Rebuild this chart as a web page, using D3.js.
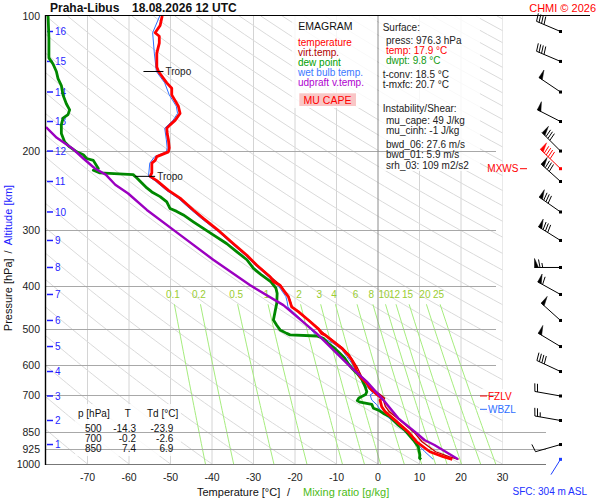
<!DOCTYPE html>
<html>
<head>
<meta charset="utf-8">
<script src="https://cdn.jsdelivr.net/npm/d3@7"></script>
<style>
  body { margin: 0; background: #fff; }
  svg { display: block; font-family: "Liberation Sans", Arial, sans-serif; }
</style>
</head>
<body>
<svg id="chart" width="600" height="500"></svg>
<script>
// ---- grid values ----
const isobars = [100, 200, 300, 400, 500, 600, 700, 850, 925, 1000];
const isotherms = [-70, -60, -50, -40, -30, -20, -10, 0, 10, 20, 30];
const mixRatios = [0.1, 0.2, 0.5, 1, 2, 3, 4, 6, 8, 10, 12, 15, 20, 25];

// altitude marks (km) and the pressure where they sit
const altKm = [1, 2, 3, 4, 5, 6, 7, 8, 9, 10, 11, 12, 13, 14, 15, 16];
const altP = [904.8, 799.6, 705.0, 621.7, 546.8, 478.2, 418.4, 364.2, 317.0, 273.8, 234.1, 200.2, 172.0, 147.8, 126.3, 108.3];

// winds at every km
const windDir = [254, 280, 280, 295, 301, 312, 299, 270, 302, 305, 312, 315, 297, 304, 293, 293];
const windSpd = [10, 25, 20, 40, 50, 50, 60, 65, 80, 80, 80, 80, 50, 50, 40, 40];
const mxwsP = 219.2, mxwsDir = 314, mxwsSpd = 90;
const sfcP = 976.3, sfcDir = 212;

// levels marked on the right
const fzlvP = 705, wbzlP = 755;
const tropoP = [133, 228];

// ---- sounding [p hPa, T °C] ----
const temperature = [
  [100,-52.0],[105,-52.5],[109,-53.7],[111,-52.7],[115,-52.7],[121,-53.3],[130,-53.3],[133,-52.9],
  [141,-50.9],[145,-49.7],[150,-49.7],[159,-48.1],[165,-47.7],[171,-48.9],[175,-50.1],[178,-50.9],
  [183,-50.8],[189,-50.5],[197,-50.3],[201,-50.5],[206,-53.3],[210,-53.7],[213,-54.5],[224,-54.5],
  [228,-54.9],[233,-53.3],[245,-50.5],[255,-47.7],[271,-44.5],[283,-42.1],[303,-38.1],[322,-34.9],
  [342,-31.6],[360,-29.2],[382,-26.0],[392,-25.2],[399,-23.6],[409,-22.8],[423,-21.6],[434,-21.2],
  [446,-20.8],[457,-19.2],[477,-16.8],[500,-14.3],[511,-13.6],[515,-12.8],[529,-11.2],[552,-8.7],
  [571,-7.2],[586,-6.3],[606,-5.5],[622,-5.1],[639,-4.3],[660,-2.7],[678,-1.9],[700,-0.2],
  [713,0.9],[720,0.5],[745,0.9],[764,1.7],[798,4.1],[850,7.4],[892,9.3],[939,12.5],[963,15.7],[976.3,17.9]
];
const virtTemp = [
  [303,-38.1],[360,-29.1],[399,-23.5],[423,-21.5],[446,-20.7],[477,-16.7],[500,-14.2],[515,-12.6],
  [529,-11.0],[552,-8.4],[571,-6.9],[606,-5.1],[639,-3.9],[660,-2.3],[678,-1.4],[700,0.5],
  [713,1.6],[720,1.3],[745,1.8],[764,2.7],[798,5.2],[850,8.7],[892,10.6],[939,13.9],[963,17.1],[976.3,19.4]
];
const dewpoint = [
  [100,-79.5],[112,-79.3],[124,-79.3],[128,-78.3],[133,-77.5],[138,-77.1],[143,-76.3],[150,-75.9],
  [157,-75.1],[162,-74.3],[166,-74.7],[169,-75.9],[175,-76.3],[183,-76.3],[191,-75.5],[196,-74.3],
  [201,-72.6],[204,-71.0],[208,-70.2],[210,-68.6],[219,-67.4],[221,-68.6],[224,-67.0],[226,-59.0],
  [230,-58.1],[236,-56.9],[242,-55.7],[247,-54.5],[253,-52.5],[260,-50.9],[269,-50.1],[273,-48.5],
  [278,-46.9],[288,-44.5],[298,-42.1],[308,-39.7],[322,-36.5],[336,-34.0],[350,-31.6],[366,-30.0],
  [379,-28.0],[392,-25.8],[405,-24.6],[416,-24.3],[438,-24.4],[457,-24.8],[477,-25.2],[490,-24.4],
  [502,-23.6],[511,-22.0],[515,-21.2],[518,-14.8],[524,-13.2],[538,-12.0],[552,-10.4],[566,-9.2],
  [581,-8.0],[596,-7.2],[611,-6.3],[627,-5.1],[645,-4.0],[672,-3.1],[690,-2.7],[700,-3.0],
  [712,-4.6],[722,-5.0],[728,-4.3],[736,-1.5],[751,-1.1],[758,0.1],[771,1.3],[784,2.9],
  [819,4.9],[840,6.5],[850,6.9],[884,8.5],[915,9.7],[955,10.1],[970,10.0],[976.3,10.4]
];
const wetBulb = [
  [100,-52.6],[109,-54.3],[121,-53.9],[133,-53.4],[141,-51.4],[150,-50.3],[159,-48.6],[165,-48.3],
  [171,-49.4],[178,-51.4],[189,-51.0],[197,-50.8],[201,-51.0],[206,-53.8],[213,-55.0],[228,-55.3],
  [233,-53.8],[245,-51.0],[255,-48.2],[271,-45.0],[283,-42.6],[303,-38.5],[322,-35.3],[342,-32.0],
  [360,-29.6],[382,-26.4],[399,-24.1],[409,-23.3],[423,-22.2],[434,-21.9],[446,-21.7],[457,-20.5],
  [477,-18.3],[486,-17.6],[500,-16.3],[508,-15.6],[518,-14.9],[525,-13.0],[537,-10.9],[556,-8.7],
  [576,-7.5],[596,-6.3],[617,-5.5],[639,-4.6],[668,-2.9],[695,-1.2],[701,-1.9],[720,-1.5],
  [737,-0.3],[756,0.5],[782,2.1],[816,4.5],[861,7.4],[899,9.3],[939,11.3],[976.3,13.3]
];
const parcel = [
  [177,-80.0],[187,-77.4],[197,-73.8],[208,-71.0],[219,-68.2],[226,-65.6],[238,-63.3],[249,-60.2],
  [271,-55.7],[308,-47.7],[350,-39.7],[399,-30.8],[442,-22.8],[511,-14.8],[606,-6.7],[655,-2.7],
  [720,1.3],[791,4.9],[853,9.3],[884,11.2],[907,13.6],[939,16.3],[976.3,19.3]
];

// table of standard levels
const tableP = [500, 700, 850];
const tableT = [-14.3, -0.2, 7.4];
const tableTd = [-23.9, -2.6, 6.9];

const surfaceLines = [
  ["Surface:", "#222", 382.7],
  ["press: 976.3 hPa", "#222", 386],
  ["temp: 17.9 °C", "#ff0000", 386],
  ["dwpt: 9.8 °C", "#119911", 386],
  ["t-conv: 18.5 °C", "#222", 382.7],
  ["t-mxfc: 20.7 °C", "#222", 382.7],
  ["Instability/Shear:", "#222", 382.7],
  ["mu_cape: 49 J/kg", "#222", 386],
  ["mu_cinh: -1 J/kg", "#222", 386],
  ["bwd_06: 27.6 m/s", "#222", 386],
  ["bwd_01: 5.9 m/s", "#222", 386],
  ["srh_03: 109 m2/s2", "#222", 386]
];
const surfaceRowY = [31, 43.7, 53.7, 63.7, 77.7, 87.7, 112, 123.7, 133.7, 148.3, 158.3, 168.5];

const legendItems = ["temperature", "virt.temp.", "dew point", "wet bulb temp.", "udpraft v.temp."];
const legendColors = ["#ff0000", "#b00000", "#00a000", "#3c78ff", "#b000d0"];

// ---- scales ----
const x = d3.scaleLinear().domain([-80, 30]).range([46, 502.5]);
const y = d3.scaleLog().domain([100, 1000]).range([16, 464]);

const svg = d3.select("#chart");
svg.append("defs").append("clipPath").attr("id", "plot")
  .append("rect").attr("x", 46).attr("y", 16).attr("width", 456.5).attr("height", 448);

const line = d3.line().x(d => x(d[1])).y(d => y(d[0]));

// ---- background grid ----
const grid = svg.append("g").attr("clip-path", "url(#plot)");

grid.selectAll(".iso").data(isotherms.filter(t => t !== 0)).join("line")
  .attr("x1", d => x(d)).attr("x2", d => x(d)).attr("y1", 16).attr("y2", 464)
  .attr("stroke", "#d4d4d4").attr("stroke-width", 1);

// dry adiabats every 10 K
const pSteps = d3.range(100, 1001, 10);
d3.range(-80, 320, 10).forEach(th => {
  grid.append("path")
    .attr("d", line(pSteps.map(p => [p, (th + 273.15) * Math.pow(p / 1000, 0.286) - 273.15])))
    .attr("fill", "none").attr("stroke", "#dadada").attr("stroke-width", 1);
});

// saturation mixing-ratio lines
function dewFromMix(w, p) {
  const e = w * p / (622 + w);
  const l = Math.log(e / 6.112);
  return 243.5 * l / (17.67 - l);
}
const pMix = d3.range(440, 1001, 20);
mixRatios.forEach(w => {
  grid.append("path").attr("d", line(pMix.map(p => [p, dewFromMix(w, p)])))
    .attr("fill", "none").attr("stroke", "#a6ec7e").attr("stroke-width", 1);
  svg.append("text").attr("x", x(dewFromMix(w, 440)) - 1.5).attr("y", 297.5)
    .attr("text-anchor", "middle").attr("font-size", 10).attr("fill", "#9acd32").text(w);
});

// ---- translucent boxes ----
const boxes = [[292, 16, 85, 92], [379, 16, 101, 155], [75, 404, 106, 52], [479, 389, 45, 25]];
svg.selectAll(".box").data(boxes).join("rect")
  .attr("x", d => d[0]).attr("y", d => d[1]).attr("width", d => d[2]).attr("height", d => d[3])
  .attr("fill", "#fff").attr("fill-opacity", 0.82);

// isobars on top
svg.selectAll(".isobar").data(isobars.filter(p => p !== 100)).join("line")
  .attr("x1", 46).attr("x2", d => d >= 850 ? 546 : 496)
  .attr("y1", d => Math.round(y(d)) + 0.5).attr("y2", d => Math.round(y(d)) + 0.5)
  .attr("stroke", d => d === 1000 ? "#777" : "#a8a8a8").attr("stroke-width", 1);
svg.append("line").attr("x1", x(0)).attr("x2", x(0)).attr("y1", 16).attr("y2", 464)
  .attr("stroke", "#8c8c8c");
svg.append("line").attr("x1", 45).attr("x2", 590).attr("y1", 15.5).attr("y2", 15.5)
  .attr("stroke", "#000").attr("stroke-width", 1.2);
svg.append("line").attr("x1", 45.5).attr("x2", 45.5).attr("y1", 15).attr("y2", 465)
  .attr("stroke", "#000").attr("stroke-width", 1.4);

// ---- axes labels ----
svg.selectAll(".ylab").data(isobars).join("text")
  .attr("x", 40).attr("y", d => y(d) + 4).attr("text-anchor", "end")
  .attr("font-size", 10.5).attr("fill", "#222").text(d => d);
svg.selectAll(".xlab").data(isotherms).join("text")
  .attr("x", d => x(d)).attr("y", 481).attr("text-anchor", "middle")
  .attr("font-size", 10.5).attr("fill", "#222").text(d => d);

const alt = svg.append("g");
alt.selectAll("line").data(altP).join("line")
  .attr("x1", 47).attr("x2", 53).attr("y1", d => y(d)).attr("y2", d => y(d))
  .attr("stroke", "#1f1fff").attr("stroke-width", 1.5);
alt.selectAll("text").data(altKm).join("text")
  .attr("x", 55).attr("y", (d, i) => y(altP[i]) + 3.7)
  .attr("font-size", 10).attr("fill", "#1f1fff").text(d => d);

const yTitle = svg.append("text").attr("transform", "translate(12,258) rotate(-90)")
  .attr("font-size", 11).attr("text-anchor", "middle");
yTitle.append("tspan").attr("fill", "#111").text("Pressure [hPa]");
yTitle.append("tspan").attr("fill", "#111").attr("dx", 5).text("/");
yTitle.append("tspan").attr("fill", "#2020ff").attr("dx", 5).text("Altitude [km]");

const xTitle = svg.append("text").attr("y", 496).attr("font-size", 11);
xTitle.append("tspan").attr("x", 197).attr("fill", "#111").text("Temperature [°C]");
xTitle.append("tspan").attr("x", 287).attr("fill", "#111").text("/");
xTitle.append("tspan").attr("x", 303).attr("fill", "#4cbb17").text("Mixing ratio [g/kg]");

svg.append("text").attr("x", 50).attr("y", 11.5).attr("font-size", 12).attr("font-weight", "bold")
  .attr("fill", "#111").text("Praha-Libus");
svg.append("text").attr("x", 132).attr("y", 11.5).attr("font-size", 12).attr("font-weight", "bold")
  .attr("fill", "#111").text("18.08.2026 12 UTC");
svg.append("text").attr("x", 596).attr("y", 12).attr("text-anchor", "end").attr("font-size", 11)
  .attr("fill", "#ff0000").text("CHMI © 2026");
svg.append("text").attr("x", 512.5).attr("y", 494.5).attr("font-size", 10)
  .attr("fill", "#2030ff").text("SFC: 304 m ASL");

// ---- legend ----
svg.append("text").attr("x", 298.3).attr("y", 30).attr("font-size", 10.5).attr("fill", "#111").text("EMAGRAM");
svg.selectAll(".leg").data(legendItems).join("text")
  .attr("x", 298).attr("y", (d, i) => 45.5 + i * 10).attr("font-size", 10)
  .attr("fill", (d, i) => legendColors[i]).text(d => d);
svg.append("rect").attr("x", 299.3).attr("y", 93.3).attr("width", 56.7).attr("height", 12.7).attr("fill", "#f9c6c6");
svg.append("text").attr("x", 327.5).attr("y", 103.5).attr("text-anchor", "middle").attr("font-size", 10.5)
  .attr("fill", "#ff0000").text("MU CAPE");

svg.selectAll(".info").data(surfaceLines).join("text")
  .attr("x", d => d[2]).attr("y", (d, i) => surfaceRowY[i]).attr("font-size", 10)
  .attr("fill", d => d[1]).text(d => d[0]);

// ---- table ----
const tb = svg.append("g").attr("font-size", 10).attr("fill", "#111");
tb.append("text").attr("x", 78).attr("y", 417).text("p [hPa]");
tb.append("text").attr("x", 127.7).attr("y", 417).attr("text-anchor", "middle").text("T");
tb.append("text").attr("x", 147).attr("y", 417).text("Td [°C]");
tableP.forEach((p, i) => {
  const yy = 431.8 + i * 10.2;
  tb.append("text").attr("x", 101.7).attr("y", yy).attr("text-anchor", "end").text(p);
  tb.append("text").attr("x", 136).attr("y", yy).attr("text-anchor", "end").text(tableT[i].toFixed(1));
  tb.append("text").attr("x", 173.3).attr("y", yy).attr("text-anchor", "end").text(tableTd[i].toFixed(1));
});

// ---- profiles ----
function interpAt(profile, p) {
  const s = profile.slice().sort((a, b) => a[0] - b[0]);
  for (let i = 0; i < s.length - 1; i++) {
    const [p0, t0] = s[i], [p1, t1] = s[i + 1];
    if (p >= p0 && p <= p1) return t0 + Math.log(p / p0) / Math.log(p1 / p0) * (t1 - t0);
  }
  return NaN;
}
const prof = svg.append("g").attr("clip-path", "url(#plot)").attr("fill", "none")
  .attr("stroke-linejoin", "round");

const capeArea = d3.area()
  .y(p => y(p))
  .x0(p => x(interpAt(virtTemp, p)))
  .x1(p => x(Math.max(interpAt(virtTemp, p), interpAt(parcel, p))));
prof.append("path").attr("d", capeArea(d3.range(700, 901, 3)))
  .attr("fill", "#f6c2b8").attr("stroke", "none");

prof.append("path").attr("d", line(virtTemp)).attr("stroke", "#c00000").attr("stroke-width", 1.3);
prof.append("path").attr("d", line(wetBulb)).attr("stroke", "#2f6fff").attr("stroke-width", 1);
prof.append("path").attr("d", line(dewpoint)).attr("stroke", "#008800").attr("stroke-width", 2.8);
prof.append("path").attr("d", line(temperature)).attr("stroke", "#ff0000").attr("stroke-width", 2.8);
prof.append("path").attr("d", line(parcel)).attr("stroke", "#9b00c0").attr("stroke-width", 2.4);

// tropopause marks
tropoP.forEach(p => {
  const tx = x(interpAt(temperature, p)), ty = y(p);
  svg.append("line").attr("x1", tx - 15).attr("x2", tx + 5).attr("y1", ty).attr("y2", ty)
    .attr("stroke", "#000").attr("stroke-width", 1);
  svg.append("text").attr("x", tx + 7).attr("y", ty + 3.5).attr("font-size", 10)
    .attr("fill", "#222").text("Tropo");
});

// ---- right-hand labels ----
function levelMark(p, label, color) {
  const yy = y(p);
  svg.append("line").attr("x1", 480).attr("x2", 487).attr("y1", yy).attr("y2", yy).attr("stroke", color);
  svg.append("text").attr("x", 488).attr("y", yy + 3.7).attr("font-size", 10).attr("fill", color).text(label);
}
levelMark(fzlvP, "FZLV", "#ff0000");
levelMark(wbzlP, "WBZL", "#2f6fff");
svg.append("text").attr("x", 487.3).attr("y", y(mxwsP) + 3.7).attr("font-size", 10)
  .attr("fill", "#ff0000").text("MXWS");
svg.append("line").attr("x1", 520).attr("x2", 527).attr("y1", y(mxwsP)).attr("y2", y(mxwsP))
  .attr("stroke", "#ff0000");

// ---- wind barbs ----
const barbs = svg.append("g");
function drawBarb(p, dir, spd, color, len) {
  const cx = 560.5, cy = y(p);
  const a = dir * Math.PI / 180, ux = Math.sin(a), uy = -Math.cos(a);
  const nx = -uy, ny = ux;
  const tx = cx + ux * len, ty = cy + uy * len;
  const g = barbs.append("g").attr("stroke", color).attr("fill", color);
  g.append("line").attr("x1", cx).attr("y1", cy).attr("x2", tx).attr("y2", ty).attr("stroke-width", 1);
  g.append("rect").attr("x", cx - 1.5).attr("y", cy - 1.5).attr("width", 3).attr("height", 3).attr("stroke", "none");
  const at = s => [tx - ux * s, ty - uy * s];
  let rest = Math.round(spd / 5) * 5, s = 0;
  while (rest >= 50) {
    const [ax, ay] = at(s), [bx, by] = at(s + 4);
    g.append("polygon").attr("points", `${ax},${ay} ${ax + nx * 9},${ay + ny * 9} ${bx},${by}`)
      .attr("stroke-width", 0.5);
    s += 5.5; rest -= 50;
  }
  while (rest >= 10) {
    const [ax, ay] = at(s);
    g.append("line").attr("x1", ax).attr("y1", ay)
      .attr("x2", ax + nx * 8 + ux * 1.5).attr("y2", ay + ny * 8 + uy * 1.5).attr("stroke-width", 1);
    s += 2.7; rest -= 10;
  }
  if (rest >= 5) {
    if (s === 0) s = 2.7;
    const [ax, ay] = at(s);
    g.append("line").attr("x1", ax).attr("y1", ay)
      .attr("x2", ax + nx * 4.5 + ux * 0.8).attr("y2", ay + ny * 4.5 + uy * 0.8).attr("stroke-width", 1);
  }
}
altP.forEach((p, i) => drawBarb(p, windDir[i], windSpd[i], "#000", 26));
drawBarb(mxwsP, mxwsDir, mxwsSpd, "#ff0000", 28);
drawBarb(sfcP, sfcDir, 0, "#1f3fff", 18);
</script>
</body>
</html>
